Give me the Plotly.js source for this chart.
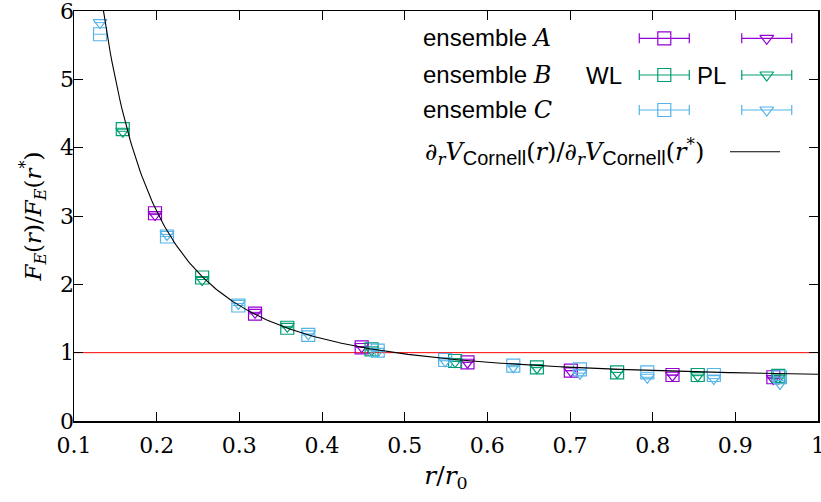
<!DOCTYPE html>
<html>
<head>
<meta charset="utf-8">
<script src="https://cdn.plot.ly/plotly-3.0.1.min.js"></script>
<style>html,body{margin:0;padding:0;background:#fff;}#chart{width:821px;height:502px;}</style>
</head>
<body>
<div id="chart"></div>
<script>
// ---- data ----
const xA   = [0.198, 0.319, 0.448, 0.576, 0.701, 0.824, 0.946];
const wlA  = [3.04, 1.57, 1.078, 0.859, 0.737, 0.673, 0.64];
const plA  = [3.02, 1.59, 1.09, 0.86, 0.735, 0.67, 0.62];

const xB   = [0.159, 0.255, 0.358, 0.460, 0.561, 0.660, 0.757, 0.8545, 0.952];
const wlB  = [4.27, 2.10, 1.365, 1.049, 0.878, 0.786, 0.712, 0.673, 0.66];
const plB  = [4.24, 2.07, 1.385, 1.04, 0.87, 0.78, 0.71, 0.663, 0.63];

const xC   = [0.1315, 0.2125, 0.2988, 0.3834, 0.4674, 0.549, 0.6314, 0.712, 0.7935, 0.874, 0.954];
const wlC  = [5.66, 2.70, 1.69, 1.259, 1.03, 0.893, 0.81, 0.756, 0.712, 0.673, 0.64];
const plC  = [5.83, 2.73, 1.72, 1.275, 1.02, 0.88, 0.795, 0.70, 0.64, 0.62, 0.55];

const xErr = 0.007;

// Cornell force ratio parameters: F(r) = A/r^2 + sigma, ratio F(r)/F(r*)
const cornellAoverSigma = 0.1705;
const rStar = 0.4888;

const xTicks = [0.1,0.2,0.3,0.4,0.5,0.6,0.7,0.8,0.9,1];
const xTickText = ["0.1","0.2","0.3","0.4","0.5","0.6","0.7","0.8","0.9","1"];
const yTicks = [0,1,2,3,4,5,6];

const ensembleNames = ["A","B","C"];
const colors = ["#9400D3", "#009E73", "#56B4E9"];

// ---- curve ----
const rCurve = [], fCurve = [];
for (let i = 0; i <= 450; i++) {
  const r = 0.1 + i * 0.002;
  rCurve.push(r);
  fCurve.push((cornellAoverSigma / (r*r) + 1) / (cornellAoverSigma / (rStar*rStar) + 1));
}

const serif = "DejaVu Serif";
const sans = "Liberation Sans";

function pts(x, y, color, symbol, size) {
  return {
    type: "scatter", mode: "markers", x: x, y: y, showlegend: false,
    marker: {symbol: symbol, size: size, color: color, line: {color: color, width: 1.2}},
    error_x: {type: "constant", value: xErr, color: color, thickness: 1, width: 0},
    hoverinfo: "x+y"
  };
}

const traces = [];
const sets = [[xA, wlA, plA], [xB, wlB, plB], [xC, wlC, plC]];
sets.forEach((s, i) => {
  traces.push(pts(s[0], s[1], colors[i], "square-open", 13));
  traces.push(pts(s[0], s[2], colors[i], "triangle-down-open", 12));
});
traces.push({type: "scatter", mode: "lines", x: rCurve, y: fCurve, showlegend: false,
  line: {color: "#000", width: 1.1}, hoverinfo: "skip"});

// ---- custom legend (paper-fraction overlay axes) ----
const legSqX = 0.7934, legTriX = 0.9311, legRows = [0.9334, 0.8439, 0.7585];
const legHalf = 0.0336;
ensembleNames.forEach((n, i) => {
  traces.push({type: "scatter", mode: "markers", xaxis: "x2", yaxis: "y2", showlegend: false,
    x: [legSqX], y: [legRows[i]], hoverinfo: "skip",
    marker: {symbol: "square-open", size: 13, color: colors[i], line: {color: colors[i], width: 1.2}},
    error_x: {type: "constant", value: legHalf, color: colors[i], thickness: 1.2, width: 5}});
  traces.push({type: "scatter", mode: "markers", xaxis: "x2", yaxis: "y2", showlegend: false,
    x: [legTriX], y: [legRows[i]], hoverinfo: "skip",
    marker: {symbol: "triangle-down-open", size: 12, color: colors[i], line: {color: colors[i], width: 1.2}},
    error_x: {type: "constant", value: legHalf, color: colors[i], thickness: 1.2, width: 5}});
});
traces.push({type: "scatter", mode: "lines", xaxis: "x2", yaxis: "y2", showlegend: false,
  x: [0.8817, 0.9489], y: [0.6568, 0.6568], line: {color: "#000", width: 1.1}, hoverinfo: "skip"});

const annotations = [];
ensembleNames.forEach((n, i) => {
  annotations.push({xref: "paper", yref: "paper", x: 0.4664, y: legRows[i], xanchor: "left", yanchor: "middle",
    showarrow: false, font: {family: sans, size: 24, color: "#000"},
    text: 'ensemble <span style="font-family:' + serif + '"><i>' + n + '</i></span>'});
});
annotations.push({xref: "paper", yref: "paper", x: 0.7124, y: legRows[1], xanchor: "center", yanchor: "middle",
  showarrow: false, font: {family: sans, size: 24, color: "#000"}, text: "WL"});
annotations.push({xref: "paper", yref: "paper", x: 0.8571, y: legRows[1], xanchor: "center", yanchor: "middle",
  showarrow: false, font: {family: sans, size: 24, color: "#000"}, text: "PL"});
const cor = '<span style="font-family:' + sans + ';font-size:20px">Cornell</span>';
annotations.push({xref: "paper", yref: "paper", x: 0.4687, y: 0.6568, xanchor: "left", yanchor: "middle",
  showarrow: false, font: {family: serif, size: 24, color: "#000"},
  text: '<i>∂</i><sub><i>r</i></sub><i>V</i><sub>' + cor + '</sub>(<i>r</i>)/<i>∂</i><sub><i>r</i></sub><i>V</i><sub>' + cor + '</sub>(<i>r</i><sup>*</sup>)'});

const layout = {
  width: 821, height: 502,
  margin: {l: 74, r: 3, t: 11, b: 81},
  paper_bgcolor: "#fff", plot_bgcolor: "#fff",
  font: {family: serif, size: 22, color: "#000"},
  showlegend: false,
  xaxis: {
    range: [0.1, 1], tickvals: xTicks, ticktext: xTickText,
    ticks: "inside", ticklen: 9, tickwidth: 1, tickcolor: "#000",
    showline: true, linecolor: "#000", linewidth: 1.5, mirror: "ticks",
    showgrid: false, zeroline: false, ticklabelstandoff: 4, ticklabeloverflow: "allow",
    tickfont: {family: serif, size: 22},
    title: {text: "<i>r</i>/<i>r</i><sub>0</sub>", font: {family: serif, size: 25}, standoff: 9}
  },
  yaxis: {
    range: [0, 6], tickvals: yTicks,
    ticks: "inside", ticklen: 9, tickwidth: 1, tickcolor: "#000",
    showline: true, linecolor: "#000", linewidth: 1.5, mirror: "ticks",
    showgrid: false, zeroline: false, ticklabelstandoff: -6, ticklabeloverflow: "allow",
    tickfont: {family: serif, size: 22},
    title: {text: "<i>F</i><sub><i>E</i></sub>(<i>r</i>)/<i>F</i><sub><i>E</i></sub>(<i>r</i><sup>*</sup>)", font: {family: serif, size: 23}, standoff: 12}
  },
  xaxis2: {overlaying: "x", range: [0, 1], visible: false, fixedrange: true},
  yaxis2: {overlaying: "y", range: [0, 1], visible: false, fixedrange: true},
  shapes: [{type: "line", xref: "paper", yref: "y", x0: 0, x1: 1, y0: 1, y1: 1,
    line: {color: "#ff0000", width: 1}, layer: "below"}],
  annotations: annotations
};

Plotly.newPlot("chart", traces, layout, {displayModeBar: false, staticPlot: true});
</script>
</body>
</html>
